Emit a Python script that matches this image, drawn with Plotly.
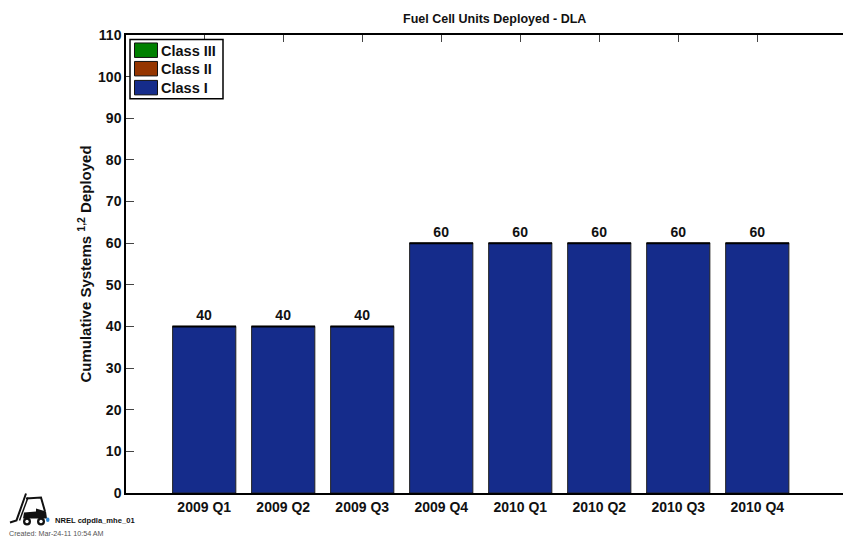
import plotly.graph_objects as go

categories = ["2009 Q1", "2009 Q2", "2009 Q3", "2009 Q4", "2010 Q1", "2010 Q2", "2010 Q3", "2010 Q4"]
class_i = [40, 40, 40, 60, 60, 60, 60, 60]
class_ii = [0, 0, 0, 0, 0, 0, 0, 0]
class_iii = [0, 0, 0, 0, 0, 0, 0, 0]
y_ticks = list(range(0, 111, 10))

FONT = "Liberation Sans, Arial, sans-serif"
L, R, T, B = 126, 843, 34.5, 493.5
W, H = 843, 539


def px(x):
    return (x - L) / (R - L)


def py(y):
    return (B - y) / (B - T)


def path(points, close=True):
    s = "M" + " L".join(f"{px(x):.5f},{py(y):.5f}" for x, y in points)
    return s + (" Z" if close else "")


fig = go.Figure()
for name, vals, color in [("Class III", class_iii, "#008000"),
                          ("Class II", class_ii, "#953500"),
                          ("Class I", class_i, "#152C8B")]:
    fig.add_trace(go.Bar(
        x=categories, y=vals, name=name, width=0.8, showlegend=False,
        marker=dict(color=color, line=dict(color="#222222", width=1)),
        text=[f"<b>{v}</b>" for v in vals] if name == "Class I" else None,
        textposition="outside" if name == "Class I" else None,
        textfont=dict(family=FONT, size=14, color="#111111"),
        cliponaxis=False,
    ))

# Heavier top edge on each bar and the top-axis ticks
fig.add_trace(go.Scatter(
    x=categories, y=class_i, xaxis="x2", mode="markers", showlegend=False, hoverinfo="skip",
    marker=dict(symbol="line-ew", size=45.5, color="black", line=dict(color="black", width=2)),
))

shapes = []
annotations = []


def text(x, y, s, size=12, color="#111111", anchor="left"):
    annotations.append(dict(x=px(x), y=py(y), xref="paper", yref="paper", text=s, showarrow=False,
                            xanchor=anchor, yanchor="middle", xshift=0, yshift=0,
                            borderpad=0, font=dict(family=FONT, size=size, color=color)))


# Legend box
shapes.append(dict(type="rect", xref="paper", yref="paper", x0=px(130), x1=px(223), y0=py(98.5), y1=py(39),
                   line=dict(color="black", width=1.5), fillcolor="white", layer="above"))
for (y0, y1, color, label) in [(42.5, 57, "#008000", "Class III"),
                               (61, 75.5, "#953500", "Class II"),
                               (80, 94.5, "#152C8B", "Class I")]:
    shapes.append(dict(type="rect", xref="paper", yref="paper", x0=px(134.5), x1=px(157.5), y0=py(y1), y1=py(y0),
                       line=dict(color="#111111", width=1), fillcolor=color, layer="above"))
    text(160, (y0 + y1) / 2 + 0.5, f"<b>{label}</b>", size=14.5)

# Forklift logo
blk = dict(color="#111111", width=2)
shapes.append(dict(type="path", xref="paper", yref="paper", path=path([(26, 494), (16.5, 521), (10, 523)], False), line=blk))
shapes.append(dict(type="path", xref="paper", yref="paper", path=path([(28, 498), (19.5, 521)], False), line=dict(color="#111111", width=1.5)))
shapes.append(dict(type="path", xref="paper", yref="paper", path=path([(26, 499), (41, 498), (45, 512)], False), line=blk))
shapes.append(dict(type="path", xref="paper", yref="paper", path=path([(24, 513), (36, 512), (36, 509), (46, 512), (47, 519), (23, 519)]), fillcolor="#111111", line=dict(width=0)))
for cx, r, col in [(27, 4, "#111111"), (41, 4, "#111111")]:
    shapes.append(dict(type="circle", xref="paper", yref="paper", x0=px(cx - r), x1=px(cx + r), y0=py(522 + r), y1=py(522 - r),
                       fillcolor=col, line=dict(width=0)))
    shapes.append(dict(type="circle", xref="paper", yref="paper", x0=px(cx - 1.7), x1=px(cx + 1.7), y0=py(522 + 1.7), y1=py(522 - 1.7),
                       fillcolor="white", line=dict(width=0)))
shapes.append(dict(type="circle", xref="paper", yref="paper", x0=px(46), x1=px(49.5), y0=py(522.5), y1=py(518),
                   fillcolor="#2E86D1", line=dict(width=0)))

text(54, 521, "<b>NREL cdpdla_mhe_01</b>", size=7.6)
text(8, 534.5, "Created: Mar-24-11 10:54 AM", size=7.2, color="#555555")
text(494.5, 18, "<b>Fuel Cell Units Deployed - DLA</b>", size=12.5, anchor="center")

axis_range = [-0.99, 8.085]
fig.update_layout(
    width=W, height=H, autosize=False,
    margin=dict(l=L, r=W - R, t=T, b=H - B),
    paper_bgcolor="white", plot_bgcolor="white",
    barmode="overlay", showlegend=False, shapes=shapes, annotations=annotations,
    font=dict(family=FONT, size=12, color="#111111"),
    xaxis=dict(type="category", categoryorder="array", categoryarray=categories, range=axis_range, ticks="", showgrid=False,
               showline=True, linecolor="black", linewidth=1.5, zeroline=False,
               tickfont=dict(family=FONT, size=14, weight="bold"), tickangle=0),
    xaxis2=dict(type="category", categoryorder="array", categoryarray=categories, range=axis_range, overlaying="x", side="top", anchor="y",
                ticks="inside", ticklen=7, tickwidth=1, tickcolor="#444444", showticklabels=False,
                showgrid=False, showline=True, linecolor="black", linewidth=1.5, zeroline=False),
    yaxis=dict(range=[0, 110], tickvals=y_ticks, ticks="inside", ticklen=8, tickwidth=1, tickcolor="#444444",
               showgrid=False, showline=True, linecolor="black", linewidth=1.5, zeroline=False,
               tickfont=dict(family=FONT, size=14, weight="bold"),
               title=dict(text="<b>Cumulative Systems <sup>1,2</sup> Deployed</b>",
                          font=dict(family=FONT, size=15), standoff=3)),
)
fig.write_html("out.html", config={"displayModeBar": False}, post_script="document.body.style.margin='0';")
